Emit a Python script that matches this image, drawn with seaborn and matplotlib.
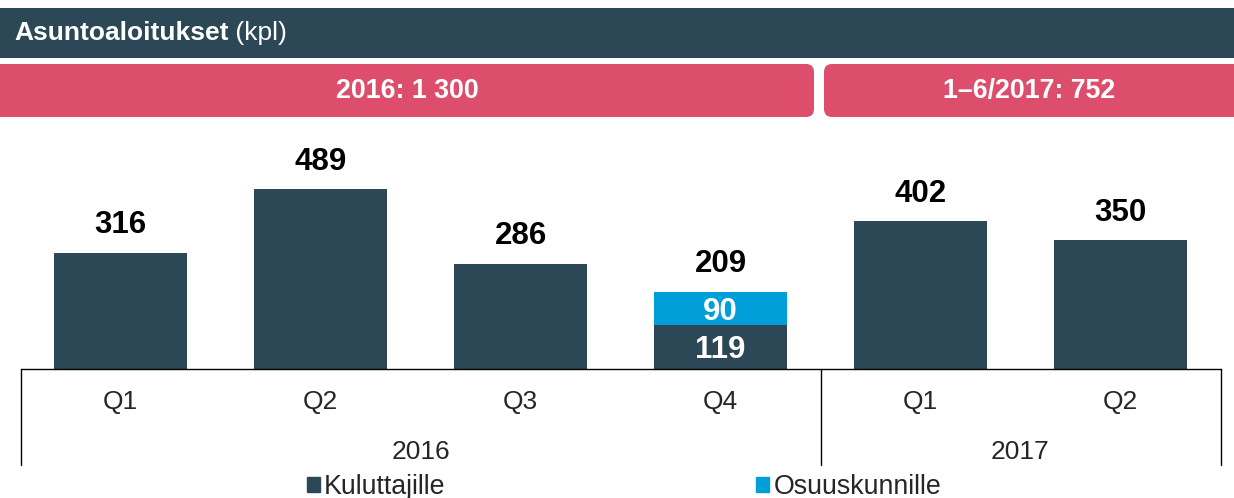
import matplotlib
matplotlib.use("Agg")
import matplotlib.pyplot as plt
import matplotlib.patches as mpatches
import seaborn as sns
import pandas as pd

# data
years = ["2016", "2016", "2016", "2016", "2017", "2017"]
quarters = ["Q1", "Q2", "Q3", "Q4", "Q1", "Q2"]
kuluttajille = [316, 489, 286, 119, 402, 350]
osuuskunnille = [0, 0, 0, 90, 0, 0]
series_names = ["Kuluttajille", "Osuuskunnille"]
banner_labels = ["2016: 1 300", "1–6/2017: 752"]

dark = "#2c4856"
blue = "#009fda"
pink = "#dc4e6b"

sns.set_theme(style="white")
plt.rcParams["font.family"] = ["Liberation Sans", "DejaVu Sans"]

df = pd.DataFrame({
    "key": [y + " " + q for y, q in zip(years, quarters)],
    "kul": kuluttajille,
    "osu": osuuskunnille,
})
df["total"] = df["kul"] + df["osu"]

W, H = 1234, 498
fig = plt.figure(figsize=(W / 100, H / 100), dpi=100)

# header bar and banners, drawn in pixel coordinates
bg = fig.add_axes([0, 0, 1, 1], zorder=0)
bg.set_xlim(0, W)
bg.set_ylim(H, 0)
bg.axis("off")
bg.add_patch(mpatches.Rectangle((0, 8), W, 50, color=dark, lw=0))
t1 = bg.text(14, 33, "Asuntoaloitukset", color="white", fontsize=19,
             fontweight="bold", va="center")
bg.annotate(" (kpl)", xy=(1, 0), xycoords=t1, va="bottom", ha="left",
            color="white", fontsize=19)

for (x0, x1), label in zip([(-12, 814), (824, W + 12)], banner_labels):
    bg.add_patch(mpatches.FancyBboxPatch((x0 + 8, 72), x1 - x0 - 16, 37,
                                         boxstyle="round,pad=8", color=pink, lw=0))
    cx = (max(x0, 0) + min(x1, W)) / 2
    bg.text(cx, 91, label, color="white", fontsize=19.3, fontweight="bold",
            ha="center", va="center")

# bar chart
base_px, top_px = 368.5, 130
px_per_unit = 0.367
ax = fig.add_axes([20.5 / W, (H - base_px) / H, 1200 / W, (base_px - top_px) / H], zorder=1)
ax.patch.set_alpha(0)

sns.barplot(data=df, x="key", y="total", color=blue, saturation=1, width=0.665,
            linewidth=0, ax=ax)
sns.barplot(data=df, x="key", y="kul", color=dark, saturation=1, width=0.665,
            linewidth=0, ax=ax)

n = len(df)
ax.set_xlim(-0.5, n - 0.5)
ax.set_ylim(0, (base_px - top_px) / px_per_unit)
ax.set_xticks([])
ax.set_yticks([])
ax.set_xlabel("")
ax.set_ylabel("")
for s in ["top", "left", "right"]:
    ax.spines[s].set_visible(False)
ax.spines["bottom"].set_color("black")
ax.spines["bottom"].set_linewidth(1)

ax_h = base_px - top_px
trans = ax.get_xaxis_transform()

# value labels
for i, row in df.iterrows():
    ax.annotate(f"{row['total']}", (i, row["total"]), xytext=(0, 14),
                textcoords="offset points", ha="center", va="baseline",
                fontsize=22.5, fontweight="bold", color="black")
    if row["osu"] > 0:
        ax.text(i, row["kul"] / 2, f"{row['kul']}", ha="center", va="center_baseline",
                fontsize=22.5, fontweight="bold", color="white")
        ax.text(i, row["kul"] + row["osu"] / 2, f"{row['osu']}", ha="center",
                va="center_baseline", fontsize=22.5, fontweight="bold", color="white")

# category axis: quarters, years and separators
for i, q in enumerate(quarters):
    ax.text(i, -31 / ax_h, q, transform=trans, ha="center", va="center_baseline",
            fontsize=19)

bounds = [-0.5] + [i + 0.5 for i in range(n - 1) if years[i] != years[i + 1]] + [n - 0.5]
for b in bounds:
    ax.plot([b, b], [0, -(465 - base_px) / ax_h], transform=trans, color="black",
            lw=1, clip_on=False)
for a, b in zip(bounds[:-1], bounds[1:]):
    ax.text((a + b) / 2, -81 / ax_h, years[int(a + 0.5)], transform=trans,
            ha="center", va="center_baseline", fontsize=19)

handles = [mpatches.Patch(color=dark, label=series_names[0]),
           mpatches.Patch(color=blue, label=series_names[1])]
fig.legend(handles=handles, loc="center", bbox_to_anchor=(624 / W, 1 - 487 / H),
           ncol=2, frameon=False, fontsize=19.3, handlelength=0.49, handleheight=0.49,
           handletextpad=0.15, columnspacing=11.6, borderpad=0, borderaxespad=0)

fig.savefig("out.png", dpi=100)
